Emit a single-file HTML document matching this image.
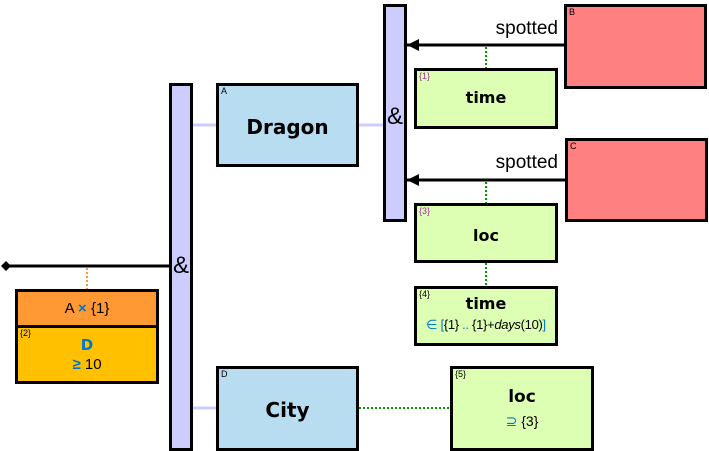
<!DOCTYPE html>
<html><head><meta charset="utf-8"><style>
body{margin:0;width:709px;height:451px;position:relative;background:#fff;font-family:"Liberation Sans",sans-serif;overflow:hidden}
.b{position:absolute;box-sizing:border-box;border:3px solid #000}
.t{position:absolute;left:0;right:0;text-align:center;font-weight:bold;font-family:"DejaVu Sans","Liberation Sans",sans-serif}
.s{position:absolute;font-size:9px;left:2px;top:0}
.amp{position:absolute;left:0;right:0;text-align:center;font-size:24px}
</style></head><body>
<svg width="709" height="451" style="position:absolute;left:0;top:0">
<line x1="193" y1="125" x2="217" y2="125" stroke="#ccccff" stroke-width="3"/>
<line x1="358" y1="125" x2="383" y2="125" stroke="#ccccff" stroke-width="3"/>
<line x1="193" y1="408" x2="217" y2="408" stroke="#ccccff" stroke-width="3"/>
<line x1="6" y1="266" x2="170" y2="266" stroke="#000" stroke-width="3"/>
<polygon points="1,266 6,261 11,266 6,271" fill="#000"/>
<line x1="87" y1="268" x2="87" y2="290" stroke="#ff9933" stroke-width="2" stroke-dasharray="2,2"/>
<line x1="407" y1="45" x2="565" y2="45" stroke="#000" stroke-width="3"/>
<polygon points="407,45 419,39 419,51" fill="#000"/>
<line x1="407" y1="180" x2="565" y2="180" stroke="#000" stroke-width="3"/>
<polygon points="407,180 419,174 419,186" fill="#000"/>
<g stroke="#009900" stroke-width="2" stroke-dasharray="2,2">
<line x1="486" y1="47" x2="486" y2="69"/>
<line x1="486" y1="182" x2="486" y2="204"/>
<line x1="486" y1="263" x2="486" y2="287"/>
<line x1="359" y1="408" x2="450" y2="408"/>
</g>
<text x="558" y="34" text-anchor="end" font-size="19" font-family="Liberation Sans">spotted</text>
<text x="558" y="168" text-anchor="end" font-size="19" font-family="Liberation Sans">spotted</text>
</svg>

<div class="b" style="left:169px;top:83px;width:24px;height:368px;background:#ccccff"><div class="amp" style="top:166px">&amp;</div></div>
<div class="b" style="left:383px;top:4px;width:24px;height:218px;background:#ccccff"><div class="amp" style="top:96px">&amp;</div></div>

<div class="b" style="left:216px;top:83px;width:143px;height:84px;background:#b8dcf0"><div class="s">A</div><div class="t" style="top:29px;font-size:20px">Dragon</div></div>
<div class="b" style="left:216px;top:366px;width:143px;height:85px;background:#b8dcf0"><div class="s">D</div><div class="t" style="top:29px;font-size:20px">City</div></div>

<div class="b" style="left:564px;top:4px;width:143px;height:85px;background:#ff8080"><div class="s">B</div></div>
<div class="b" style="left:565px;top:138px;width:143px;height:84px;background:#ff8080"><div class="s">C</div></div>

<div class="b" style="left:414px;top:68px;width:144px;height:61px;background:#ddffb3"><div class="s" style="color:#993399">{1}</div><div class="t" style="top:17px;font-size:16px">time</div></div>
<div class="b" style="left:414px;top:203px;width:144px;height:60px;background:#ddffb3"><div class="s" style="color:#993399">{3}</div><div class="t" style="top:20px;font-size:16px">loc</div></div>
<div class="b" style="left:414px;top:286px;width:144px;height:60px;background:#ddffb3"><div class="s">{4}</div><div class="t" style="top:5px;font-size:16px">time</div><div style="position:absolute;left:0;right:0;top:28px;text-align:center;font-size:13px;white-space:nowrap;letter-spacing:-0.3px"><span style="color:#0077cc">∈ [</span>{1} <span style="color:#0077cc">..</span> {1}+<i>days</i>(10)<span style="color:#0077cc">]</span></div></div>
<div class="b" style="left:450px;top:366px;width:144px;height:85px;background:#ddffb3"><div class="s">{5}</div><div class="t" style="top:18px;font-size:17px">loc</div><div style="position:absolute;left:0;right:0;top:44px;text-align:center;font-size:14px"><span style="color:#0077cc">⊇</span> {3}</div></div>

<div class="b" style="left:15px;top:289px;width:144px;height:95px;background:#ffc000"><div style="position:absolute;left:0;right:0;top:0;height:33px;background:#ff9933;border-bottom:3px solid #000;text-align:center;line-height:33px;font-size:15px">A <span style="color:#0077cc;font-weight:bold">×</span> {1}</div><div class="s" style="top:36px">{2}</div><div class="t" style="top:44px;font-size:15px;color:#0077cc">D</div><div style="position:absolute;left:0;right:0;top:64px;text-align:center;font-size:15px"><span style="color:#0077cc;font-weight:bold">≥</span> 10</div></div>
</body></html>
